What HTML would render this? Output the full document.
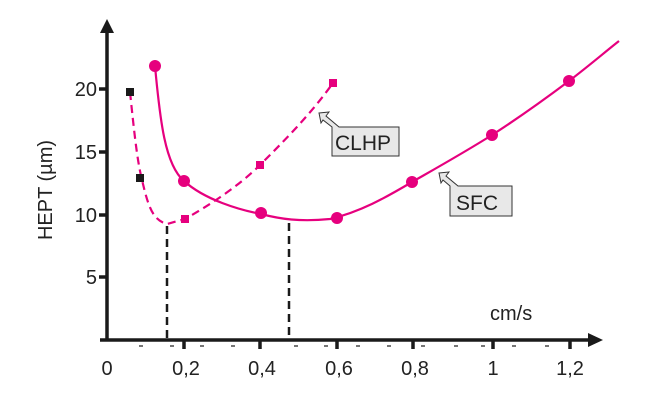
<!DOCTYPE html>
<html><head><style>body{margin:0;background:#fff}svg{display:block}text{font-family:"Liberation Sans",sans-serif;fill:#222}</style></head><body>
<svg width="659" height="409" viewBox="0 0 659 409">
<g stroke="#1a1a1a" stroke-width="3.5" fill="none">
<line x1="107" y1="30" x2="107" y2="340"/>
<line x1="100" y1="340" x2="590" y2="340"/>
<line x1="99" y1="89" x2="107" y2="89"/><line x1="99" y1="152" x2="107" y2="152"/><line x1="99" y1="215" x2="107" y2="215"/><line x1="99" y1="277" x2="107" y2="277"/>
<line x1="184" y1="340" x2="184" y2="349"/><line x1="260" y1="340" x2="260" y2="349"/><line x1="337" y1="340" x2="337" y2="349"/><line x1="413" y1="340" x2="413" y2="349"/><line x1="493" y1="340" x2="493" y2="349"/><line x1="570" y1="340" x2="570" y2="349"/>
</g>
<g stroke="#1a1a1a" stroke-width="1.2">
<line x1="139" y1="346" x2="143" y2="346"/><line x1="170" y1="346" x2="174" y2="346"/><line x1="200" y1="346" x2="204" y2="346"/><line x1="231" y1="346" x2="235" y2="346"/><line x1="294" y1="346" x2="298" y2="346"/><line x1="324" y1="346" x2="328" y2="346"/><line x1="356" y1="346" x2="360" y2="346"/><line x1="387" y1="346" x2="391" y2="346"/><line x1="421" y1="346" x2="425" y2="346"/><line x1="454" y1="346" x2="458" y2="346"/><line x1="481" y1="346" x2="485" y2="346"/><line x1="512" y1="346" x2="516" y2="346"/><line x1="545" y1="346" x2="549" y2="346"/>
</g>
<polygon points="107,19 100,33 114,33" fill="#1a1a1a"/>
<polygon points="603,340 588,333 588,347" fill="#1a1a1a"/>
<g font-size="20">
<text x="97" y="96" text-anchor="end">20</text><text x="97" y="159" text-anchor="end">15</text><text x="97" y="222" text-anchor="end">10</text><text x="97" y="284" text-anchor="end">5</text>
<text x="107" y="375" text-anchor="middle">0</text><text x="186" y="375" text-anchor="middle">0,2</text><text x="262" y="375" text-anchor="middle">0,4</text><text x="339" y="375" text-anchor="middle">0,6</text><text x="415" y="375" text-anchor="middle">0,8</text><text x="493" y="375" text-anchor="middle">1</text><text x="570" y="375" text-anchor="middle">1,2</text>
<text x="490" y="320">cm/s</text>
<text transform="translate(52,190) rotate(-90)" text-anchor="middle">HEPT (µm)</text>
</g>
<g stroke="#1a1a1a" stroke-width="2.5" stroke-dasharray="8,5"><line x1="167" y1="226" x2="167" y2="340"/><line x1="289" y1="223" x2="289" y2="340"/></g>
<g fill="none" stroke="#e6007e" stroke-width="2.2">
<path d="M155,66 C160,120 165,165 184,181 C205,200 240,210 261,214 C280,219 300,222 330,219 C360,212 385,198 412,182 C440,166 465,152 492,135 C520,117 545,99 569,81 C590,65 605,52 619,41"/>
<path stroke-dasharray="8,5" d="M130,92 C134,130 137,160 142,180 C148,205 152,220 167,224 L185,219 C210,205 240,185 260,165 C285,140 310,115 333,83"/>
</g>
<g fill="#e6007e"><circle cx="155" cy="66" r="6"/><circle cx="184" cy="181" r="6"/><circle cx="261" cy="213" r="6"/><circle cx="337" cy="218" r="6"/><circle cx="412" cy="182" r="6"/><circle cx="492" cy="135" r="6"/><circle cx="569" cy="81" r="6"/>
<rect x="181" y="215" width="8" height="8"/><rect x="256" y="161" width="8" height="8"/><rect x="329" y="79" width="8" height="8"/></g>
<g fill="#1a1a1a"><rect x="126" y="88" width="8" height="8"/><rect x="136" y="174" width="8" height="8"/></g>
<g fill="#e8e8e8" stroke="#333" stroke-width="1">
<polygon points="319,113 329,112 326,116 339,127 399,127 399,156 332,156 332,127 323,120 321,123"/>
<polygon points="439,173 449,172 446,176 458,186 512,186 512,216 450,216 450,186 443,180 441,183"/>
</g>
<g font-size="21"><text x="335" y="150">CLHP</text><text x="456" y="210">SFC</text></g>
</svg>
</body></html>
